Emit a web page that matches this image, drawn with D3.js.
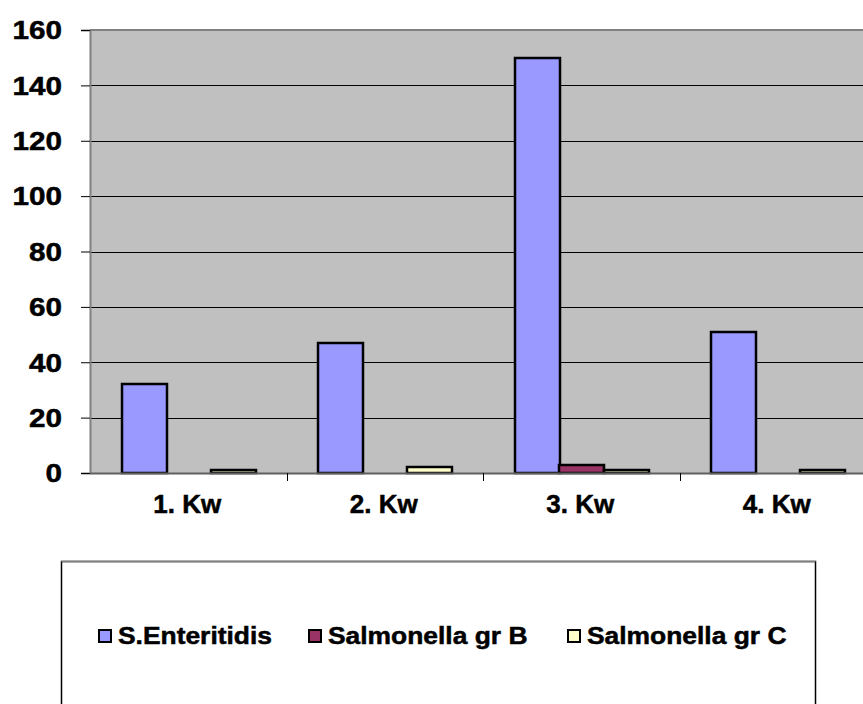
<!DOCTYPE html>
<html><head><meta charset="utf-8">
<script src="https://cdn.jsdelivr.net/npm/d3@7"></script>
<style>html,body{margin:0;padding:0;background:#fff;}svg{display:block;}text{font-family:"Liberation Sans",Arial,sans-serif;font-weight:bold;fill:#000;stroke:#000;stroke-width:0.5px;}</style>
</head><body>
<script>
const categories = ["1. Kw", "2. Kw", "3. Kw", "4. Kw"];
const seriesNames = ["S.Enteritidis", "Salmonella gr B", "Salmonella gr C"];
const seriesColors = ["#9999FF", "#993366", "#FFFFCC"];
const sEnteritidis = [32, 47, 150, 51];
const salmonellaB = [0, 0, 3, 0];
const salmonellaC = [1, 2, 1, 1];
const yTicks = [0, 20, 40, 60, 80, 100, 120, 140, 160];

const seriesValues = [sEnteritidis, salmonellaB, salmonellaC];
const W = 863, H = 704;
const plot = {left: 90, top: 30, right: 876, bottom: 473};

const svg = d3.select("body").append("svg").attr("width", W).attr("height", H);

const x = d3.scaleBand().domain(categories).range([plot.left, plot.right]).padding(0);
const bw = x.bandwidth();
const gap = 31.5;
const xs = d3.scaleBand().domain(seriesNames).range([gap, bw - gap]).padding(0);
const y = d3.scaleLinear().domain([0, 160]).range([plot.bottom, plot.top]);

// plot background
svg.append("rect").attr("x", plot.left).attr("y", plot.top)
  .attr("width", plot.right - plot.left).attr("height", plot.bottom - plot.top)
  .attr("fill", "#C0C0C0");

// gridlines
svg.append("g").selectAll("line").data(yTicks.filter(d => d > 0 && d < 160)).join("line")
  .attr("x1", plot.left).attr("x2", plot.right)
  .attr("y1", d => Math.round(y(d)) + 0.5).attr("y2", d => Math.round(y(d)) + 0.5)
  .attr("stroke", "#000").attr("stroke-width", 1);
// top border
svg.append("line").attr("x1", plot.left).attr("x2", plot.right)
  .attr("y1", y(160)).attr("y2", y(160)).attr("stroke", "#808080").attr("stroke-width", 2);

// bars
const data = [];
categories.forEach((c, i) => seriesNames.forEach((s, j) => data.push({c, s, j, v: seriesValues[j][i]})));
svg.append("g").selectAll("rect").data(data.filter(d => d.v > 0)).join("rect")
  .attr("x", d => Math.round(x(d.c) + xs(d.s)))
  .attr("y", d => Math.round(y(d.v)))
  .attr("width", Math.round(xs.bandwidth()))
  .attr("height", d => Math.round(y(0)) - Math.round(y(d.v)))
  .attr("fill", d => seriesColors[d.j])
  .attr("stroke", "#000").attr("stroke-width", 2.5);

// y axis
const yAxis = svg.append("g").attr("transform", `translate(${plot.left},0)`)
  .call(d3.axisLeft(y).tickValues(yTicks).tickSize(9).tickFormat(""));
yAxis.select(".domain").attr("stroke", "#808080").attr("stroke-width", 2);
yAxis.selectAll(".tick line").attr("stroke", "#000");
svg.append("g").selectAll("text").data(yTicks).join("text")
  .attr("transform", d => `translate(62,${y(d) + 9.3}) scale(1.14,1)`)
  .attr("text-anchor", "end").attr("font-size", 26).text(d => d);

// x axis
const xAxis = svg.append("g").attr("transform", `translate(0,${plot.bottom})`)
  .call(d3.axisBottom(x).tickSize(0).tickFormat(""));
xAxis.select(".domain").attr("stroke", "#606060").attr("stroke-width", 2);
svg.append("g").selectAll("line").data(categories.slice(1)).join("line")
  .attr("x1", d => Math.round(x(d)) + 0.5).attr("x2", d => Math.round(x(d)) + 0.5)
  .attr("y1", plot.bottom).attr("y2", plot.bottom + 8)
  .attr("stroke", "#000");
svg.append("g").selectAll("text").data(categories).join("text")
  .attr("transform", d => `translate(${x(d) + bw / 2 - 1},513) scale(1.04,1)`)
  .attr("text-anchor", "middle").attr("font-size", 25).text(d => d);

// legend
svg.append("rect").attr("x", 61.5).attr("y", 561.5).attr("width", 754).attr("height", 160)
  .attr("fill", "#fff").attr("stroke", "#000").attr("stroke-width", 1.5);
svg.append("line").attr("x1", 61.5).attr("x2", 815.5).attr("y1", 561.5).attr("y2", 561.5)
  .attr("stroke", "#808080").attr("stroke-width", 1.5);
const legX = [98, 308, 567];
const leg = svg.append("g").selectAll("g").data(seriesNames).join("g")
  .attr("transform", (d, i) => `translate(${legX[i]},0)`);
leg.append("rect").attr("x", 1).attr("y", 630).attr("width", 12).attr("height", 12)
  .attr("fill", (d, i) => seriesColors[i]).attr("stroke", "#000").attr("stroke-width", 2);
leg.append("text").attr("transform", "translate(20,644) scale(1.1,1)")
  .attr("font-size", 24).text(d => d);
</script>
</body></html>
